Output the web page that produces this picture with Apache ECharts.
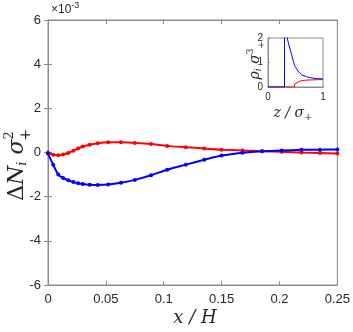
<!DOCTYPE html>
<html>
<head>
<meta charset="utf-8">
<script src="https://cdn.jsdelivr.net/npm/echarts@6/dist/echarts.min.js"></script>
<style>
  html, body { margin: 0; padding: 0; background: #fff; }
  #chart { width: 353px; height: 332px; }
</style>
</head>
<body>
<div id="chart"></div>
<script>
// main plot, y in units of 1e-3
const xPos = [0, 0.0045, 0.0089, 0.013, 0.0175, 0.022, 0.026, 0.030, 0.036, 0.043, 0.052, 0.063,
  0.075, 0.089, 0.103, 0.119, 0.135, 0.150, 0.168, 0.185, 0.202, 0.219, 0.235, 0.25]
const dNplus = [-0.05, -0.55, -1.0, -1.15, -1.26, -1.34, -1.39, -1.43, -1.46, -1.47, -1.45, -1.37,
  -1.24, -1.03, -0.78, -0.55, -0.33, -0.14, -0.01, 0.06, 0.09, 0.12, 0.13, 0.14]
const dNminus = [0, -0.1, -0.12, -0.09, -0.02, 0.08, 0.18, 0.27, 0.35, 0.42, 0.46, 0.46,
  0.43, 0.38, 0.30, 0.24, 0.18, 0.13, 0.09, 0.06, 0.03, 0.0, -0.02, -0.04]
const yTicks = [-6, -4, -2, 0, 2, 4, 6]

// inset: density profiles
const zBlue = [0, 0.3, 0.305, 0.34, 0.37, 0.4, 0.43, 0.46, 0.49, 0.55, 0.61, 0.7, 0.79, 0.9, 1.0]
const rhoBlue = [0, 0, 14, 2.1, 1.8, 1.55, 1.32, 1.05, 0.84, 0.64, 0.5, 0.42, 0.37, 0.34, 0.33]
const zRed = [0, 0.48, 0.485, 0.52, 0.56, 0.61, 0.7, 0.8, 0.9, 1.0]
const rhoRed = [0, 0, 0.12, 0.17, 0.22, 0.26, 0.28, 0.29, 0.3, 0.3]

const pair = (xs, ys) => xs.map((x, i) => [x, ys[i]])

const axisColor = '#8c8c8c'
const labelColor = '#262626'
const font = 'Liberation Sans'
const mathFont = 'DejaVu Serif'

const chart = echarts.init(document.getElementById('chart'))

const mainX = {
  type: 'value', min: 0, max: 0.25, interval: 0.05,
  axisLine: { show: true, onZero: false, lineStyle: { color: axisColor } },
  axisTick: { show: true, inside: true, length: 4, lineStyle: { color: axisColor } },
  axisLabel: { color: labelColor, fontSize: 13, fontFamily: font, margin: 8 },
  splitLine: { show: false }
}
const mainY = {
  type: 'value', min: -6, max: 6, interval: 2,
  axisLine: { show: true, lineStyle: { color: axisColor } },
  axisTick: { show: true, inside: true, length: 4, lineStyle: { color: axisColor } },
  axisLabel: { color: labelColor, fontSize: 13, fontFamily: font, margin: 7 },
  splitLine: { show: false }
}
const insetAxisBase = {
  axisLine: { show: true, onZero: false, lineStyle: { color: axisColor } },
  axisTick: { show: true, inside: true, length: 2, lineStyle: { color: axisColor } },
  axisLabel: { color: labelColor, fontSize: 10, fontFamily: font, margin: 5 },
  splitLine: { show: false }
}

const option = {
  backgroundColor: '#fff',
  animation: false,
  grid: [
    { left: 48, right: 14, top: 20, bottom: 47, show: true, borderColor: axisColor, borderWidth: 1 },
    { left: 268, top: 38, width: 55, height: 49, show: true, borderColor: axisColor, borderWidth: 1, backgroundColor: '#fff', z: 5 }
  ],
  xAxis: [
    Object.assign({ gridIndex: 0, position: 'bottom' }, mainX),
    Object.assign({}, mainX, { gridIndex: 0, position: 'top', axisLabel: { show: false } }),
    Object.assign({ gridIndex: 1, type: 'value', min: 0, max: 1, interval: 1, position: 'bottom', z: 6 }, insetAxisBase)
  ],
  yAxis: [
    Object.assign({ gridIndex: 0, position: 'left' }, mainY),
    Object.assign({}, mainY, { gridIndex: 0, position: 'right', axisLabel: { show: false } }),
    Object.assign({ gridIndex: 1, type: 'value', min: 0, max: 2, interval: 1, position: 'left', z: 6 }, insetAxisBase)
  ],
  series: [
    {
      name: 'red', type: 'line', xAxisIndex: 0, yAxisIndex: 0,
      data: pair(xPos, dNminus), smooth: 0.3,
      symbol: 'circle', symbolSize: 4, showSymbol: true,
      lineStyle: { color: '#ff0000', width: 2 }, itemStyle: { color: '#ff0000' }
    },
    {
      name: 'blue', type: 'line', xAxisIndex: 0, yAxisIndex: 0,
      data: pair(xPos, dNplus), smooth: 0.3,
      symbol: 'circle', symbolSize: 4, showSymbol: true,
      lineStyle: { color: '#0000ff', width: 2 }, itemStyle: { color: '#0000ff' }
    },
    {
      name: 'rhoRed', type: 'line', xAxisIndex: 2, yAxisIndex: 2, z: 7,
      data: pair(zRed, rhoRed), showSymbol: false, clip: true,
      lineStyle: { color: '#ff0000', width: 1 }
    },
    {
      name: 'rhoBlue', type: 'line', xAxisIndex: 2, yAxisIndex: 2, z: 7,
      data: pair(zBlue, rhoBlue), showSymbol: false, clip: true,
      lineStyle: { color: '#0000ff', width: 1 }
    }
  ],
  graphic: [
    {
      type: 'text', x: 51, y: 1, z: 10,
      style: {
        text: '×10{s|-3}', fill: labelColor, fontSize: 12, fontFamily: font,
        rich: { s: { fontSize: 9, fontFamily: font, fill: labelColor, verticalAlign: 'top', padding: [0, 0, 8, 0] } }
      }
    },
    {
      type: 'text', x: 195, y: 318, z: 10,
      style: {
        text: 'x / H', fill: labelColor, fontSize: 18, fontStyle: 'italic', fontFamily: mathFont,
        align: 'center', verticalAlign: 'middle'
      }
    },
    {
      type: 'text', x: 17, y: 166, rotation: Math.PI / 2, z: 10,
      style: {
        text: 'Δ{i|N}{s|i} {i|σ}{p|2}',
        fill: labelColor, fontSize: 22, fontFamily: mathFont,
        align: 'center', verticalAlign: 'middle',
        rich: {
          i: { fontSize: 22, fontStyle: 'italic', fontFamily: mathFont, fill: labelColor },
          s: { fontSize: 13, fontStyle: 'italic', fontFamily: mathFont, fill: labelColor, padding: [12, 0, 0, 0] },
          p: { fontSize: 13, fontFamily: mathFont, fill: labelColor, padding: [0, 0, 14, 0] }
        }
      }
    },
    {
      type: 'text', x: 26, y: 135, rotation: Math.PI / 2, z: 10,
      style: {
        text: '+', fill: labelColor, fontSize: 14, fontFamily: mathFont,
        align: 'center', verticalAlign: 'middle'
      }
    },
    {
      type: 'text', x: 293, y: 113, z: 10,
      style: {
        text: 'z / σ{s|+}', fill: labelColor, fontSize: 14, fontStyle: 'italic', fontFamily: mathFont,
        align: 'center', verticalAlign: 'middle',
        rich: { s: { fontSize: 10, fontFamily: mathFont, fill: labelColor, padding: [8, 0, 0, 0] } }
      }
    },
    {
      type: 'text', x: 255, y: 64, rotation: Math.PI / 2, z: 10,
      style: {
        text: 'ρ{s|i} σ{p|3}', fill: labelColor, fontSize: 14, fontStyle: 'italic', fontFamily: mathFont,
        align: 'center', verticalAlign: 'middle',
        rich: {
          s: { fontSize: 9, fontStyle: 'italic', fontFamily: mathFont, fill: labelColor, padding: [8, 0, 0, 0] },
          p: { fontSize: 9, fontFamily: mathFont, fill: labelColor, padding: [0, 0, 9, 0] }
        }
      }
    },
    {
      type: 'text', x: 262, y: 45, rotation: Math.PI / 2, z: 10,
      style: {
        text: '+', fill: labelColor, fontSize: 9, fontFamily: mathFont,
        align: 'center', verticalAlign: 'middle'
      }
    }
  ]
}

chart.setOption(option)
</script>
</body>
</html>
